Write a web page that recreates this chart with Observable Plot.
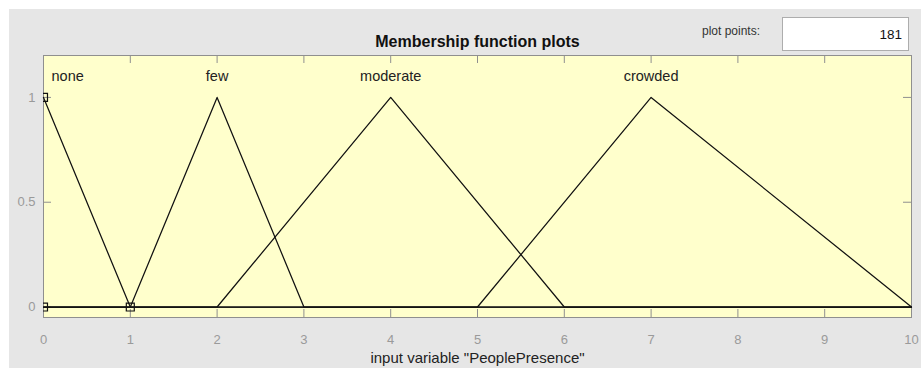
<!DOCTYPE html>
<html>
<head>
<meta charset="utf-8">
<script src="https://cdn.jsdelivr.net/npm/d3@7"></script>
<script src="https://cdn.jsdelivr.net/npm/@observablehq/plot@0.6"></script>
<style>
  html, body { margin: 0; padding: 0; background: #ffffff; }
  #wrap { position: relative; width: 921px; height: 368px; background: #ffffff; overflow: hidden; font-family: "Liberation Sans", Arial, sans-serif; }
  #panel { position: absolute; left: 9px; top: 9px; right: 0; bottom: 0; background: #e6e6e6; }
  #chart { position: absolute; left: 0; top: 0; }
  #pp-label { position: absolute; left: 702px; top: 24px; font-size: 12px; color: #333; }
  #pp-box { position: absolute; left: 782px; top: 17px; width: 125px; height: 32px; background: #fff; border: 1px solid #adadad; }
  #pp-val { position: absolute; right: 6px; top: 9px; font-size: 13.5px; color: #111; }
</style>
</head>
<body>
<div id="wrap">
  <div id="panel"></div>
  <div id="chart"></div>
  <div id="pp-label">plot points:</div>
  <div id="pp-box"><span id="pp-val">181</span></div>
</div>
<script>
// ---- data ----
const mfNames = ["none", "few", "moderate", "crowded"];
const mfParams = [[-1, 0, 1], [1, 2, 3], [2, 4, 6], [5, 7, 10]]; // trimf [a b c]
const xRange = [0, 10];
const xTicks = [0, 1, 2, 3, 4, 5, 6, 7, 8, 9, 10];
const yTicks = [0, 0.5, 1];
const markerX = [0, 0, 1];
const markerY = [0, 1, 0];
const title = "Membership function plots";
const xLabel = 'input variable "PeoplePresence"';

// ---- build tables ----
function trimf(x, [a, b, c]) {
  const l = b === a ? (x >= b ? 1 : 0) : (x - a) / (b - a);
  const r = c === b ? (x <= b ? 1 : 0) : (c - x) / (c - b);
  return Math.max(0, Math.min(l, r));
}
const lineData = [];
mfNames.forEach((name, i) => {
  const p = mfParams[i];
  const xs = Array.from(new Set([xRange[0], ...p, xRange[1]]))
    .filter(x => x >= xRange[0] && x <= xRange[1]).sort((a, b) => a - b);
  xs.forEach(x => lineData.push({mf: name, x, y: trimf(x, p)}));
});
const labelData = mfNames.map((name, i) => ({name, x: Math.max(mfParams[i][1], xRange[0]), first: i === 0}));
const markers = markerX.map((x, i) => ({x, y: markerY[i]}));

// ---- layout ----
const W = 921, H = 368;
const mL = 43, mR = 10, mT = 55, mB = 51;
const innerW = W - mL - mR, innerH = H - mT - mB;
const tickLen = 8;
const tickColor = "#8f8f8f";
const labelGray = "#9a9a9a";

const chart = Plot.plot({
  width: W,
  height: H,
  marginLeft: mL, marginRight: mR, marginTop: mT, marginBottom: mB,
  style: {background: "transparent", fontFamily: "'Liberation Sans', Arial, sans-serif", overflow: "visible"},
  x: {domain: xRange, axis: null},
  y: {domain: [-0.05, 1.2], axis: null},
  marks: [
    Plot.frame({fill: "#ffffcc"}),
    // inward ticks
    Plot.tickX(xTicks, {x: d => d, stroke: tickColor, insetTop: innerH - tickLen}),
    Plot.tickX(xTicks, {x: d => d, stroke: tickColor, insetBottom: innerH - tickLen}),
    Plot.tickY(yTicks, {y: d => d, stroke: tickColor, insetRight: innerW - tickLen}),
    Plot.tickY(yTicks, {y: d => d, stroke: tickColor, insetLeft: innerW - tickLen}),
    Plot.frame({stroke: tickColor}),
    // membership functions
    Plot.line(lineData, {x: "x", y: "y", z: "mf", stroke: "#111", strokeWidth: 1.25}),
    Plot.dot(markers, {x: "x", y: "y", symbol: "square", r: 4.5, stroke: "#111", fill: "none", strokeWidth: 1.2, clip: true}),
    // MF labels
    Plot.text(labelData.filter(d => d.first), {x: "x", y: () => 1.1, text: "name", textAnchor: "start", dx: 8, fontSize: 14.5, fill: "#222"}),
    Plot.text(labelData.filter(d => !d.first), {x: "x", y: () => 1.1, text: "name", fontSize: 14.5, fill: "#222"}),
    // axis tick labels
    Plot.text(xTicks, {x: d => d, frameAnchor: "bottom", dy: 26, text: d => String(d), fontSize: 13, fill: labelGray}),
    Plot.text(yTicks, {y: d => d, frameAnchor: "left", dx: -8, textAnchor: "end", text: d => String(d), fontSize: 13, fill: labelGray}),
    // axis label & title
    Plot.text([xLabel], {frameAnchor: "bottom", dy: 45, text: d => d, fontSize: 15, fill: "#222"}),
    Plot.text([title], {frameAnchor: "top", dy: -20, text: d => d, fontSize: 16, fontWeight: "bold", fill: "#111"})
  ]
});
document.getElementById("chart").appendChild(chart);
</script>
</body>
</html>
